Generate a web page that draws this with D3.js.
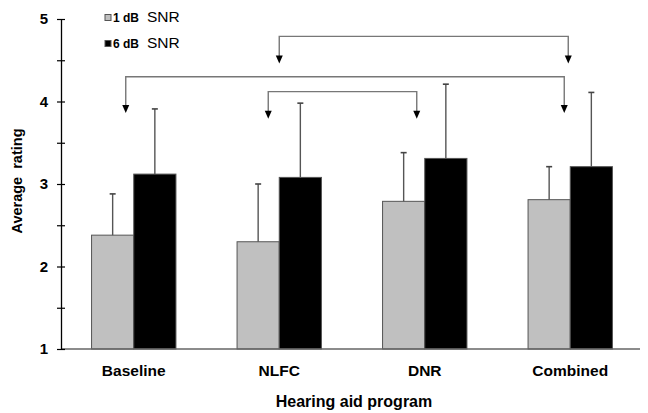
<!DOCTYPE html>
<html><head><meta charset="utf-8">
<script src="https://cdn.jsdelivr.net/npm/d3@7/dist/d3.min.js"></script>
<style>
body{margin:0;background:#fff;}
text{font-family:"Liberation Sans",Arial,sans-serif;fill:#000;}
</style></head>
<body><svg id="chart" width="648" height="413"></svg>
<script>
// ---- data ----
const categories = ["Baseline", "NLFC", "DNR", "Combined"];
const seriesNames = ["1 dB", "6 dB"];
const snr1 = [2.38, 2.30, 2.79, 2.81];
const snr6 = [3.12, 3.08, 3.31, 3.21];
const sd1 = [0.50, 0.70, 0.59, 0.40];
const sd6 = [0.79, 0.90, 0.90, 0.90];
const yTicks = [1, 1.5, 2, 2.5, 3, 3.5, 4, 4.5, 5];
const yTickLabels = ["1", "", "2", "", "3", "", "4", "", "5"];
// comparison brackets: from, to, level, arrow tip level
const brackets = [
  {from: "NLFC", to: "Combined", level: 4.79, tip: 4.46, dFrom: 0, dTo: -2},
  {from: "Baseline", to: "Combined", level: 4.30, tip: 3.86, dFrom: -8, dTo: -6},
  {from: "NLFC", to: "DNR", level: 4.12, tip: 3.79, dFrom: -11, dTo: -8}
];

(function () {
const svg = d3.select("#chart");
const mLeft = 61, mRight = 643, mTop = 19, mBottom = 349;

const x0 = d3.scaleBand().domain(categories).range([mLeft, mRight]).paddingInner(0.42).paddingOuter(0.21);
const x1 = d3.scaleBand().domain(seriesNames).range([0, x0.bandwidth()]);
const y = d3.scaleLinear().domain([1, 5]).range([mBottom, mTop]);
const fills = ["#c0c0c0", "#000000"];

const rows = categories.map((c, i) => ({cat: c, vals: [snr1[i], snr6[i]], sds: [sd1[i], sd6[i]]}));

// bars
const g = svg.append("g");
rows.forEach(r => {
  r.vals.forEach((v, k) => {
    const bx = x0(r.cat) + x1(seriesNames[k]);
    g.append("rect")
      .attr("x", bx).attr("y", y(v))
      .attr("width", x1.bandwidth()).attr("height", y(1) - y(v))
      .attr("fill", fills[k]).attr("stroke", "#555").attr("stroke-width", 1);
    const cx = bx + x1.bandwidth() / 2;
    const et = y(v + r.sds[k]);
    g.append("line").attr("x1", cx).attr("x2", cx).attr("y1", y(v)).attr("y2", et)
      .attr("stroke", "#555").attr("stroke-width", 1.4);
    g.append("line").attr("x1", cx - 3).attr("x2", cx + 3).attr("y1", et).attr("y2", et)
      .attr("stroke", "#444").attr("stroke-width", 1.6);
  });
});

// x axis line
svg.append("line").attr("x1", mLeft).attr("x2", 640).attr("y1", mBottom).attr("y2", mBottom)
  .attr("stroke", "#666").attr("stroke-width", 1.3);

// y axis
const yAxis = d3.axisLeft(y).tickValues(yTicks).tickFormat((d, i) => yTickLabels[i]).tickSizeOuter(0).tickSizeInner(4).tickPadding(10);
const ya = svg.append("g").attr("transform", `translate(${mLeft},0)`).call(yAxis);
ya.select(".domain").attr("stroke", "#000").attr("stroke-width", 1.3);
ya.selectAll(".tick line").attr("x1", -4).attr("x2", 4).attr("stroke", "#000").attr("stroke-width", 1.2);
ya.selectAll(".tick text").attr("font-size", 15).attr("font-weight", "bold")
  .attr("font-family", "Liberation Sans, Arial, sans-serif").attr("fill", "#000").attr("x", -13);

// category labels
svg.append("g").selectAll("text").data(categories).join("text")
  .attr("x", d => x0(d) + x0.bandwidth() / 2).attr("y", 376)
  .attr("text-anchor", "middle").attr("font-size", 15.5).attr("font-weight", "bold").text(d => d);

// axis titles
svg.append("text").attr("x", 354).attr("y", 407).attr("text-anchor", "middle")
  .attr("font-size", 16).attr("font-weight", "bold").text("Hearing aid program");
svg.append("text").attr("transform", `translate(22,${(mTop + mBottom) / 2 - 3}) rotate(-90)`)
  .attr("text-anchor", "middle").attr("font-size", 14.5).attr("font-weight", "bold")
  .style("white-space", "pre").text("Average  rating");

// legend
const legendY = [17.5, 43.5];
seriesNames.forEach((s, k) => {
  svg.append("rect").attr("x", 105).attr("y", legendY[k] - 3).attr("width", 6).attr("height", 6)
    .attr("fill", fills[k]).attr("stroke", "#555").attr("stroke-width", 1);
  const t = svg.append("text").attr("x", 113).attr("y", legendY[k] + 4.5);
  t.append("tspan").attr("font-size", 12).attr("font-weight", "bold").text(s);
  t.append("tspan").attr("x", 147).attr("font-size", 15.5).text("SNR");
});

// brackets with arrows
const bg = svg.append("g");
brackets.forEach(b => {
  const xa = x0(b.from) + x0.bandwidth() / 2 + b.dFrom;
  const xb = x0(b.to) + x0.bandwidth() / 2 + b.dTo;
  const yl = y(b.level), yt = y(b.tip);
  bg.append("path").attr("d", `M${xa},${yt - 6}V${yl}H${xb}V${yt - 6}`)
    .attr("fill", "none").attr("stroke", "#777").attr("stroke-width", 1.4);
  [xa, xb].forEach(xx => {
    bg.append("path").attr("d", `M${xx - 3.5},${yt - 8}L${xx + 3.5},${yt - 8}L${xx},${yt}Z`).attr("fill", "#000");
  });
});
})();
</script></body></html>
